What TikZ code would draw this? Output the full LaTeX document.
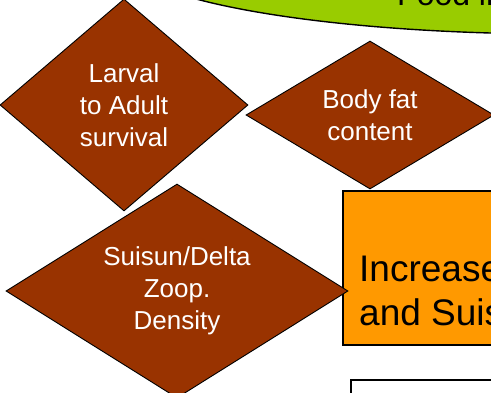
\documentclass[tikz,border=0pt]{standalone}
\usepackage{fontspec}
\setmainfont{Liberation Sans}
\usetikzlibrary{shapes.geometric}
\definecolor{rust}{HTML}{993300}
\definecolor{amber}{HTML}{FF9900}
\definecolor{leaf}{HTML}{99CC00}
\tikzset{
  gem/.style={shape=diamond, draw=black, line width=0.9pt, fill=rust,
    text=white, inner sep=0pt, align=center,
    font=\fontsize{26}{32}\selectfont},
  panel/.style={draw=black, line width=1.6pt, inner sep=0pt, anchor=north west},
  bigtext/.style={anchor=base west, inner sep=0pt, text=black,
    font=\fontsize{37}{44}\selectfont},
}
\begin{document}
\begin{tikzpicture}[x=1pt, y=-1pt]
  \useasboundingbox (0,0) rectangle (491,392);
  \clip (0,0) rectangle (491,392);
  \fill[white] (0,0) rectangle (491,392);

  % food supply ellipse at the top
  \node[ellipse, draw=black, line width=1.4pt, fill=leaf, inner sep=0pt,
        minimum width=880pt, minimum height=160pt] (food) at (560,-46) {};
  \node[anchor=base west, inner sep=0pt, font=\fontsize{32}{38}\selectfont]
        (foodtext) at (397,5) {Food in};

  % indicator diamonds
  \node[gem, minimum width=248pt, minimum height=212pt, shape aspect=1.17]
        (larval) at (124,105) {Larval\\to Adult\\survival};
  \node[gem, minimum width=248pt, minimum height=148pt, shape aspect=1.68]
        (fat) at (370,115) {Body fat\\content};

  % outcome box
  \node[panel, fill=amber, minimum width=220pt, minimum height=154pt]
        (incr) at (342,190) {};
  \node[bigtext] (incrA) at (359,281) {Increase};
  \node[bigtext] (incrB) at (359,325) {and Suis};

  \node[gem, minimum width=342pt, minimum height=214pt, shape aspect=1.6]
        (zoop) at (177,291) {Suisun/Delta\\Zoop.\\Density};

  % next box below
  \node[panel, fill=white, line width=1.5pt, minimum width=200pt,
        minimum height=60pt] (nextbox) at (350,379) {};
\end{tikzpicture}
\end{document}
